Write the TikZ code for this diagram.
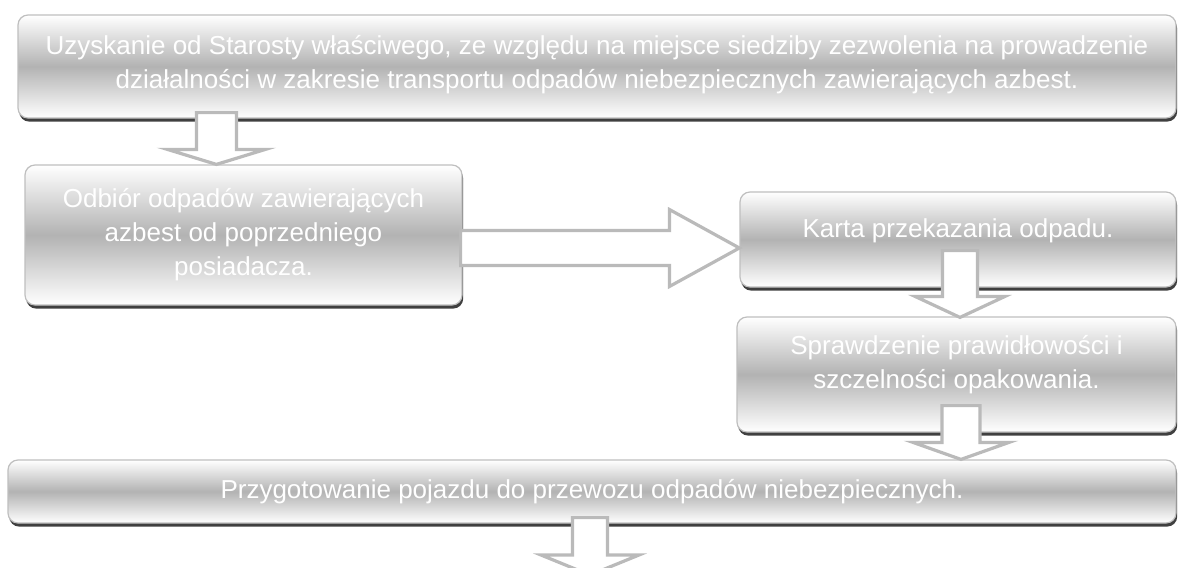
\documentclass[tikz,border=0pt]{standalone}
\usepackage{fontspec}
\setmainfont{Liberation Sans}
\usetikzlibrary{calc,shadows}
\newcommand\boxfont{\fontsize{13}{17}\selectfont}

\tikzset{
  box/.style={rounded corners=5pt, draw=black!25, line width=0.6pt,
    top color=white, bottom color=white, middle color=black!30,
    general shadow={shadow xshift=0.6pt, shadow yshift=-1.8pt, fill=black!75},
    text=white, align=center, inner sep=0pt, font=\boxfont},
  blk/.style={draw=black!27, fill=white, line width=1.6pt, line join=miter},
  downarr/.style n args={3}{blk,
    to path={let \p1=(\tikztostart), \p2=(\tikztotarget) in
      (\x1-#1,\y1) -- (\x1-#1,\y2+#3) -- (\x1-#2,\y2+#3) -- (\x1,\y2)
      -- (\x1+#2,\y2+#3) -- (\x1+#1,\y2+#3) -- (\x1+#1,\y1) -- cycle}},
  rightarr/.style n args={3}{blk,
    to path={let \p1=(\tikztostart), \p2=(\tikztotarget) in
      (\x1,\y1+#1) -- (\x2-#3,\y1+#1) -- (\x2-#3,\y1+#2) -- (\x2,\y1)
      -- (\x2-#3,\y1-#2) -- (\x2-#3,\y1-#1) -- (\x1,\y1-#1) -- cycle}},
}

\begin{document}
\begin{tikzpicture}[x=0.5pt,y=-0.5pt]
            \useasboundingbox (0,0) rectangle (1179,568);
            \clip (0,0) rectangle (1179,568);
            % boxes
            \node[box, minimum width=579pt, minimum height=51.5pt, text depth=5pt] (starosta) at (597,66.5)
                {Uzyskanie od Starosty właściwego, ze względu na miejsce siedziby zezwolenia na prowadzenie\\
                 działalności w zakresie transportu odpadów niebezpiecznych zawierających azbest.};
            \node[box, minimum width=218.5pt, minimum height=70pt] (odbior) at (243.5,235)
                {Odbiór odpadów zawierających\\ azbest od poprzedniego\\ posiadacza.};
            \node[box, minimum width=218pt, minimum height=47.5pt, text depth=11.7pt] (karta) at (958,239.5)
                {Karta przekazania odpadu.};
            \node[box, minimum width=219.5pt, minimum height=57.5pt, text depth=13pt] (sprawdz) at (956.5,374.5)
                {Sprawdzenie prawidłowości i\\ szczelności opakowania.};
            \node[box, minimum width=584pt, minimum height=31.5pt] (pojazd) at (592,491.5)
                {Przygotowanie pojazdu do przewozu odpadów niebezpiecznych.};
            \coordinate (dalej) at (590,575);
            % block arrows
            \draw[downarr={10pt}{24.5pt}{7.5pt}] ($(starosta.south west)+(199,-6)$) to ($(odbior.north west)+(192,0)$);
            \draw[rightarr={8.75pt}{19.25pt}{35pt}] ($(odbior.east)+(-2,13)$) to ($(karta.west)+(0,8)$);
            \draw[downarr={8.75pt}{22.5pt}{10.5pt}] ($(karta.south)+(2,-37)$) to ($(sprawdz.north)+(2,1)$);
            \draw[downarr={9.5pt}{24pt}{8.5pt}] ($(sprawdz.south)+(4.5,-27)$) to ($(sprawdz.south |- pojazd.north)+(4.5,0)$);
            \draw[downarr={8.75pt}{24.5pt}{10pt}] ($(pojazd.south)+(-2,-6)$) to (dalej);
        \end{tikzpicture}
\end{document}
